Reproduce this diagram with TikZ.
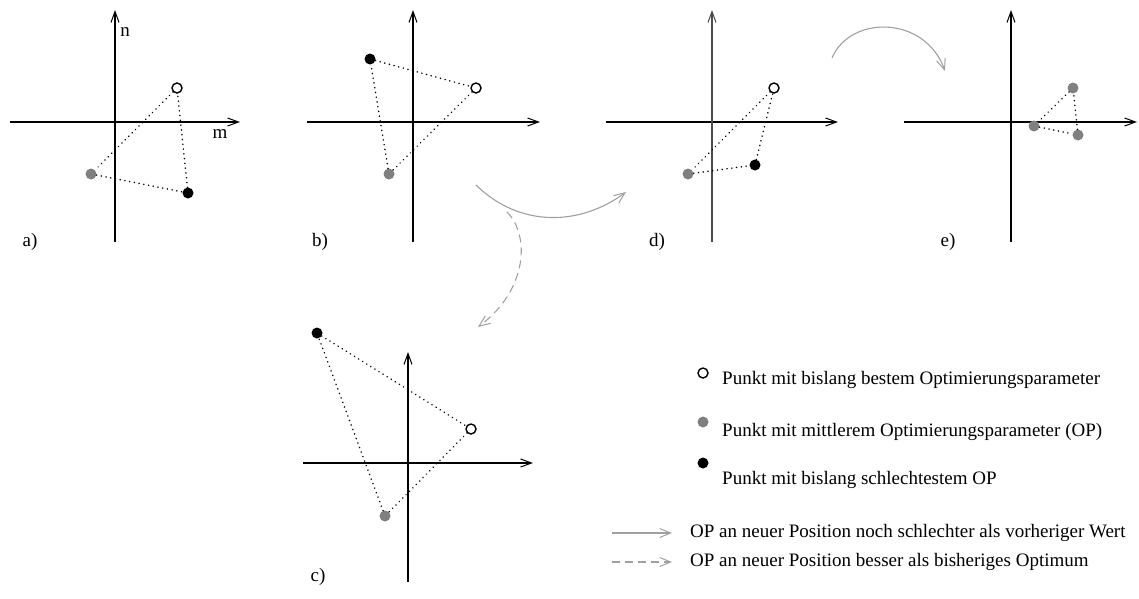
\documentclass[tikz,border=0pt]{standalone}
\usepackage{fontspec}
\setmainfont{Liberation Serif}
\usetikzlibrary{arrows.meta}

\definecolor{dotgray}{RGB}{128,128,128}
\definecolor{arcgray}{RGB}{160,160,160}

\tikzset{
  axis/.style={line width=1.1pt, -{Straight Barb[length=11pt,width=8pt,line width=1pt]}},
  simplex/.style={line width=1.7pt, dash pattern=on 0.01pt off 4.8pt, line cap=round},
  best/.style={circle, draw, line width=1.4pt, fill=white, minimum size=10pt, inner sep=0pt},
  mid/.style={circle, fill=dotgray, minimum size=11pt, inner sep=0pt},
  worst/.style={circle, fill=black, minimum size=11pt, inner sep=0pt},
  move/.style={color=arcgray, line width=1.1pt, -{Straight Barb[length=11pt,width=9pt,line width=1pt]}},
  better/.style={move, dash pattern=on 8pt off 5pt},
  lbl/.style={font=\fontsize{19}{23}\selectfont, inner sep=0pt}
}

\begin{document}
\begin{tikzpicture}[x=1pt,y=1pt,yscale=-1,xscale=1]
    \useasboundingbox (0,0) rectangle (1139,598);

    % Axes a)
    \draw [axis] (10,122) -- (240,122);
    \draw [axis] (115,242) -- (115,10);
    \node [lbl] (n) at (125,32) {n};
    \node [lbl] (m) at (220,134) {m};
    % Axes b)
    \draw [axis] (307,122) -- (540,122);
    \draw [axis] (413,242) -- (413,10);
    % Axes d)
    \draw [axis] (606,122) -- (838,122);
    \draw [axis, color=black!70, line width=1.6pt] (712,242) -- (712,10);
    % Axes e)
    \draw [axis] (904,122) -- (1137,122);
    \draw [axis] (1011,242) -- (1011,10);
    % Axes c)
    \draw [axis] (303,463) -- (533,463);
    \draw [axis] (408,582) -- (408,352);

    % Simplex a)
    \node [best] (a1) at (177,88) {};
    \node [mid] (a2) at (91,174) {};
    \node [worst] (a3) at (188,193) {};
    \draw [simplex] (a1) -- (a2) -- (a3) -- (a1);
    % Simplex b)
    \node [best] (b1) at (476,88) {};
    \node [mid] (b2) at (389,174) {};
    \node [worst] (b3) at (370,59) {};
    \draw [simplex] (b1) -- (b2) -- (b3) -- (b1);
    % Simplex d)
    \node [best] (d1) at (774,88) {};
    \node [mid] (d2) at (688,174) {};
    \node [worst] (d3) at (755,165) {};
    \draw [simplex] (d1) -- (d2) -- (d3) -- (d1);
    % Simplex e)
    \node [mid] (e1) at (1073,88) {};
    \node [mid] (e2) at (1034,126) {};
    \node [mid] (e3) at (1078,135) {};
    \draw [simplex] (e1) -- (e2) -- (e3) -- (e1);
    % Simplex c)
    \node [best] (c1) at (471,429) {};
    \node [mid] (c2) at (385,516) {};
    \node [worst] (c3) at (317,333) {};
    \draw [simplex] (c1) -- (c2) -- (c3) -- (c1);

    % Panel labels
    \node [lbl] (la) at (30,242) {a)};
    \node [lbl] (lb) at (320,242) {b)};
    \node [lbl] (ld) at (657,242) {d)};
    \node [lbl] (le) at (948,242) {e)};
    \node [lbl] (lc) at (318,577) {c)};

    % Moves
    \coordinate (bs) at (476,185);
    \coordinate (dt) at (626,192);
    \coordinate (cs) at (507,212);
    \coordinate (ct) at (478,327);
    \coordinate (ds) at (832,58);
    \coordinate (et) at (945,71);
    \draw [move] (bs) .. controls (520,228) and (580,226) .. (dt);
    \draw [better] (cs) .. controls (530,235) and (528,290) .. (ct);
    \draw [move] (ds) .. controls (850,15) and (925,15) .. (et);

    % Legend
    \node [best] (k1) at (703,373) {};
    \node [mid] (k2) at (703,422) {};
    \node [worst] (k3) at (703,463) {};
    \node [lbl, anchor=west] (t1) at (722,380) {Punkt mit bislang bestem Optimierungsparameter};
    \node [lbl, anchor=west] (t2) at (722,432) {Punkt mit mittlerem Optimierungsparameter (OP)};
    \node [lbl, anchor=west] (t3) at (722,480) {Punkt mit bislang schlechtestem OP};
    \coordinate (s1) at (612,533);
    \coordinate (s1e) at (672,533);
    \coordinate (s2) at (612,562);
    \coordinate (s2e) at (672,562);
    \node [lbl, anchor=west] (t4) at (690,533) {OP an neuer Position noch schlechter als vorheriger Wert};
    \node [lbl, anchor=west] (t5) at (690,562) {OP an neuer Position besser als bisheriges Optimum};
    \draw [move] (s1) -- (s1e);
    \draw [better] (s2) -- (s2e);
\end{tikzpicture}
\end{document}
